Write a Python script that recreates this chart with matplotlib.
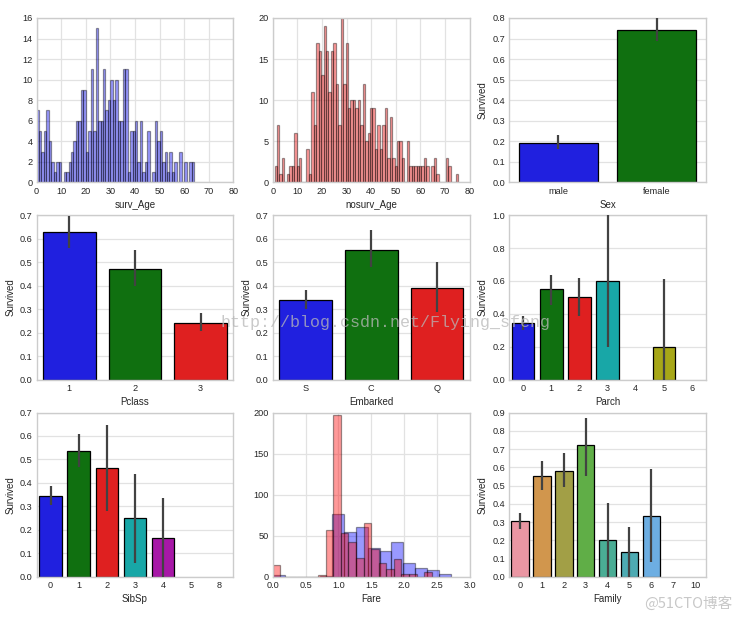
import colorsys
import numpy as np
import matplotlib
matplotlib.use("Agg")
import matplotlib.pyplot as plt
import matplotlib.colors as mcolors
import seaborn as sns

plt.rcParams['font.family'] = ['Liberation Sans', 'DejaVu Sans']

# ---------------- data ----------------
surv_age_counts = [7, 5, 3, 5, 7, 4, 2, 1, 2, 2, 0, 1, 1, 2, 3, 4, 6, 6, 9, 9,
                   3, 5, 11, 5, 15, 6, 6, 11, 7, 8, 10, 8, 10, 6, 6, 11, 11, 1, 5, 5,
                   6, 2, 6, 1, 2, 5, 0, 1, 6, 4, 5, 2, 3, 1, 3, 1, 2, 0, 3, 0,
                   2, 0, 2, 2]
surv_age_start = 0.0
surv_age_binw = 1.0

nosurv_age_counts = [2, 7, 1, 3, 0, 1, 2, 2, 6, 2, 3, 0, 0, 4, 1, 11, 7, 17, 16, 13,
                     19, 16, 11, 16, 17, 12, 7, 20, 12, 17, 9, 10, 10, 9, 10, 7, 12, 5, 6, 9,
                     9, 4, 7, 4, 7, 9, 3, 8, 3, 2, 5, 5, 3, 0, 5, 2, 2, 2, 2, 2,
                     2, 3, 2, 0, 2, 3, 1, 0, 0, 0, 3, 2, 0, 0, 1]
nosurv_age_start = 0.7
nosurv_age_binw = 0.995

fare_surv_counts = [2, 0, 0, 0, 1, 77, 55, 61, 35, 31, 42, 17, 11, 8, 4]
fare_surv_binw = 0.1807
fare_nosurv_counts = [15, 0, 0, 0, 0, 0, 2, 57, 197, 54, 43, 23, 66, 34, 17, 10, 22, 4, 4, 0, 6]
fare_nosurv_binw = 0.1153

sex_cats = ['male', 'female']
sex_vals = [0.19, 0.742]
sex_lo = [0.16, 0.69]
sex_hi = [0.228, 0.80]

pclass_cats = ['1', '2', '3']
pclass_vals = [0.63, 0.473, 0.242]
pclass_lo = [0.56, 0.40, 0.205]
pclass_hi = [0.695, 0.55, 0.285]

emb_cats = ['S', 'C', 'Q']
emb_vals = [0.337, 0.553, 0.39]
emb_lo = [0.30, 0.48, 0.29]
emb_hi = [0.38, 0.635, 0.50]

parch_cats = ['0', '1', '2', '3', '4', '5', '6']
parch_vals = [0.343, 0.551, 0.50, 0.60, 0.0, 0.20, 0.0]
parch_lo = [0.30, 0.455, 0.39, 0.20, np.nan, 0.0, np.nan]
parch_hi = [0.385, 0.635, 0.62, 1.00, np.nan, 0.61, np.nan]

sibsp_cats = ['0', '1', '2', '3', '4', '5', '8']
sibsp_vals = [0.345, 0.536, 0.464, 0.25, 0.167, 0.0, 0.0]
sibsp_lo = [0.305, 0.47, 0.28, 0.06, 0.0, np.nan, np.nan]
sibsp_hi = [0.385, 0.61, 0.645, 0.44, 0.335, np.nan, np.nan]

family_cats = ['0', '1', '2', '3', '4', '5', '6', '7', '10']
family_vals = [0.304, 0.553, 0.578, 0.724, 0.20, 0.136, 0.333, 0.0, 0.0]
family_lo = [0.262, 0.475, 0.49, 0.55, 0.0, 0.0, 0.08, np.nan, np.nan]
family_hi = [0.35, 0.632, 0.68, 0.87, 0.405, 0.275, 0.59, np.nan, np.nan]

# ---------------- style ----------------
TXT = '#262626'
TICKFS = 6.6
LABFS = 7.0
GRID = '#e2e2e2'
SPINE = '#cccccc'


def desat(c, prop=0.75):
    r, g, b = mcolors.to_rgb(c)
    h, l, s = colorsys.rgb_to_hls(r, g, b)
    return colorsys.hls_to_rgb(h, l, s * prop)


base_pal = [desat(c) for c in ['blue', 'green', 'red', 'c', 'm', 'y']]
fam_pal = [desat(c) for c in sns.husl_palette(9, l=.7)]


def style_axes(ax, xgrid=True):
    ax.set_facecolor('white')
    for s in ax.spines.values():
        s.set_color(SPINE)
        s.set_linewidth(1.0)
    ax.grid(True, axis='y', color=GRID, lw=0.9)
    if xgrid:
        ax.grid(True, axis='x', color=GRID, lw=0.9)
    ax.set_axisbelow(True)
    ax.tick_params(length=0, labelsize=TICKFS, colors=TXT, pad=3)


def barplot(ax, cats, vals, lo, hi, colors, xlabel, ymax, ystep):
    style_axes(ax, xgrid=False)
    x = np.arange(len(cats))
    for i in range(len(cats)):
        if np.isnan(lo[i]):
            continue
        ax.bar(x[i], vals[i], width=0.8, color=colors[i % len(colors)],
               edgecolor='black', linewidth=0.9, zorder=2)
        ax.plot([x[i], x[i]], [lo[i], hi[i]], color='#424242', lw=1.6,
                solid_capstyle='butt', zorder=3)
    ax.set_xlim(-0.5, len(cats) - 0.5)
    ax.set_xticks(x)
    ax.set_xticklabels(cats)
    ax.set_ylim(0, ymax)
    ax.set_yticks(np.arange(0, ymax + 1e-9, ystep))
    ax.set_yticklabels(['%.1f' % v for v in np.arange(0, ymax + 1e-9, ystep)])
    ax.set_xlabel(xlabel, fontsize=LABFS, color=TXT, labelpad=3)
    ax.set_ylabel('Survived', fontsize=LABFS, color=TXT, labelpad=3)


def hist_counts(ax, start, binw, counts, color):
    edges = start + binw * np.arange(len(counts) + 1)
    centers = (edges[:-1] + edges[1:]) / 2
    ax.hist(centers, bins=edges, weights=counts, color=color, alpha=0.4,
            edgecolor='black', linewidth=0.9, zorder=2)


fig, axes = plt.subplots(3, 3, figsize=(7.53, 6.19), dpi=100)
fig.subplots_adjust(left=0.0485, right=0.9376, bottom=0.068, top=0.971,
                    wspace=0.2, hspace=0.2)

# surv_Age
ax = axes[0, 0]
style_axes(ax)
hist_counts(ax, surv_age_start, surv_age_binw, surv_age_counts, 'blue')
ax.set_xlim(0, 80)
ax.set_ylim(0, 16)
ax.set_xticks(np.arange(0, 81, 10))
ax.set_yticks(np.arange(0, 17, 2))
ax.set_xlabel('surv_Age', fontsize=LABFS, color=TXT, labelpad=3)

# nosurv_Age
ax = axes[0, 1]
style_axes(ax)
hist_counts(ax, nosurv_age_start, nosurv_age_binw, nosurv_age_counts, 'red')
ax.set_xlim(0, 80)
ax.set_ylim(0, 20)
ax.set_xticks(np.arange(0, 81, 10))
ax.set_yticks(np.arange(0, 21, 5))
ax.set_xlabel('nosurv_Age', fontsize=LABFS, color=TXT, labelpad=3)

barplot(axes[0, 2], sex_cats, sex_vals, sex_lo, sex_hi, base_pal, 'Sex', 0.8, 0.1)
barplot(axes[1, 0], pclass_cats, pclass_vals, pclass_lo, pclass_hi, base_pal, 'Pclass', 0.7, 0.1)
barplot(axes[1, 1], emb_cats, emb_vals, emb_lo, emb_hi, base_pal, 'Embarked', 0.7, 0.1)
barplot(axes[1, 2], parch_cats, parch_vals, parch_lo, parch_hi, base_pal, 'Parch', 1.0, 0.2)
barplot(axes[2, 0], sibsp_cats, sibsp_vals, sibsp_lo, sibsp_hi, base_pal, 'SibSp', 0.7, 0.1)

# Fare
ax = axes[2, 1]
style_axes(ax)
hist_counts(ax, 0.0, fare_surv_binw, fare_surv_counts, 'blue')
hist_counts(ax, 0.0, fare_nosurv_binw, fare_nosurv_counts, 'red')
ax.set_xlim(0, 3.0)
ax.set_ylim(0, 200)
ax.set_xticks(np.arange(0, 3.01, 0.5))
ax.set_xticklabels(['%.1f' % v for v in np.arange(0, 3.01, 0.5)])
ax.set_yticks(np.arange(0, 201, 50))
ax.set_xlabel('Fare', fontsize=LABFS, color=TXT, labelpad=3)

barplot(axes[2, 2], family_cats, family_vals, family_lo, family_hi, fam_pal, 'Family', 0.9, 0.1)

# watermarks
fig.text(0.293, 0.472, 'http://blog.csdn.net/Flying_sfeng', fontsize=12,
         family=['Liberation Mono', 'DejaVu Sans Mono'], color='#b8b8b8', alpha=0.75,
         ha='left', va='baseline', zorder=10)
fig.text(0.855, 0.018, '@51CTO博客', fontsize=10.5,
         family=['Noto Sans CJK SC', 'DejaVu Sans'], color='#c8c8c8',
         ha='left', va='baseline', zorder=10)

fig.savefig('out.png', dpi=100, facecolor='white')
